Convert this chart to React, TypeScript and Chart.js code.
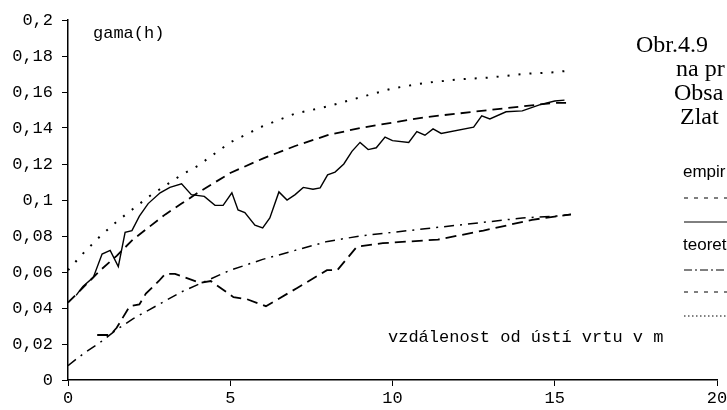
import React, { useEffect, useRef } from "react";
import { Chart, registerables } from "chart.js";

Chart.register(...registerables);

// empirical semivariogram (solid line)
const empSolidX = [0.25, 0.46, 0.78, 1.05, 1.3, 1.55, 1.76, 1.97, 2.2, 2.47, 2.84, 3.14, 3.5, 3.8, 4.2, 4.53, 4.78, 5.05, 5.24, 5.45, 5.76, 6.0, 6.22, 6.5, 6.75, 7.0, 7.25, 7.55, 7.77, 8.0, 8.23, 8.5, 8.75, 9.0, 9.25, 9.5, 9.77, 10.0, 10.5, 10.75, 11.0, 11.25, 11.5, 12.5, 12.75, 13.0, 13.5, 14.0, 14.55, 15.0, 15.3];
const empSolidY = [0.047, 0.052, 0.057, 0.070, 0.072, 0.063, 0.082, 0.083, 0.091, 0.098, 0.104, 0.107, 0.109, 0.103, 0.102, 0.097, 0.097, 0.104, 0.0945, 0.093, 0.086, 0.0845, 0.09, 0.1045, 0.100, 0.103, 0.107, 0.106, 0.1067, 0.114, 0.1155, 0.120, 0.127, 0.132, 0.128, 0.129, 0.135, 0.133, 0.132, 0.138, 0.136, 0.1395, 0.137, 0.1405, 0.1467, 0.145, 0.149, 0.1495, 0.153, 0.155, 0.1555];

// empirical semivariogram (dashed line)
const empDashX = [0.9, 1.3, 1.5, 1.9, 2.2, 2.4, 2.8, 3.0, 3.3, 4.07, 4.4, 5.1, 5.5, 6.1, 7.05, 7.98, 8.3, 8.9, 9.7, 11.4, 12.8, 14.3, 15.5];
const empDashY = [0.025, 0.025, 0.029, 0.041, 0.042, 0.048, 0.055, 0.059, 0.059, 0.054, 0.055, 0.046, 0.045, 0.041, 0.051, 0.061, 0.061, 0.074, 0.076, 0.078, 0.083, 0.089, 0.092];

// theoretical models
const theoryX = [0, 0.5, 1, 1.5, 2, 2.5, 3, 3.5, 4, 5, 6, 7, 8, 9, 10, 11, 12, 13, 14, 15, 15.5];
const theoryDashDot = [0.008, 0.015, 0.021, 0.028, 0.034, 0.039, 0.044, 0.049, 0.053, 0.061, 0.067, 0.072, 0.077, 0.080, 0.082, 0.084, 0.086, 0.088, 0.090, 0.091, 0.092];
const theoryDashed = [0.043, 0.052, 0.061, 0.069, 0.078, 0.085, 0.092, 0.098, 0.104, 0.115, 0.123, 0.130, 0.136, 0.140, 0.143, 0.146, 0.148, 0.150, 0.152, 0.154, 0.154];
const theoryDotted = [0.061, 0.071, 0.080, 0.088, 0.095, 0.102, 0.108, 0.114, 0.119, 0.132, 0.141, 0.148, 0.152, 0.157, 0.162, 0.165, 0.167, 0.168, 0.170, 0.171, 0.172];

const xTicks = [0, 5, 10, 15, 20];
const yLabel = "gama(h)";
const xLabel = "vzdálenost od ústí vrtu v m";
const captionLines = ["Obr.4.9", "na pr", "Obsa", "Zlat"];
const legendEmp = "empir";
const legendTheo = "teoret";

const MONO = "'Liberation Mono', 'Courier New', monospace";

const pairs = (xs: number[], ys: number[]) => xs.map((x, i) => ({ x, y: ys[i] }));

const textPlugin = {
  id: "texts",
  afterDraw(chart: any) {
    const ctx = chart.ctx as CanvasRenderingContext2D;
    ctx.save();
    ctx.fillStyle = "#000";
    ctx.textBaseline = "middle";
    ctx.textAlign = "left";
    ctx.font = `17px ${MONO}`;
    ctx.fillText(yLabel, 93, 33);
    ctx.fillText(xLabel, 388, 337);

    ctx.font = "24px 'Liberation Serif', 'Times New Roman', serif";
    ctx.fillText(captionLines[0], 636, 46);
    ctx.fillText(captionLines[1], 676, 70);
    ctx.fillText(captionLines[2], 674, 94);
    ctx.fillText(captionLines[3], 680, 118);

    ctx.font = "17px 'Liberation Sans', Arial, sans-serif";
    ctx.fillText(legendEmp, 683, 172);
    ctx.fillText(legendTheo, 683, 245);

    const seg = (y: number, dash: number[], w: number) => {
      ctx.beginPath();
      ctx.setLineDash(dash);
      ctx.lineWidth = w;
      ctx.strokeStyle = "#000";
      ctx.moveTo(684, y);
      ctx.lineTo(740, y);
      ctx.stroke();
    };
    seg(198, [4, 6], 1.2);
    seg(222, [], 1);
    seg(270, [8, 3, 2, 3], 1);
    seg(292, [4, 6], 1.2);
    seg(316, [1.5, 2.5], 1);
    ctx.restore();
  },
};

export default function App() {
  const ref = useRef<HTMLCanvasElement | null>(null);
  useEffect(() => {
    document.body.style.margin = "0";
    const canvas = ref.current!;
    const chart = new Chart(canvas, {
      type: "line",
      data: {
        datasets: [
          {
            label: "empir 1",
            data: pairs(empDashX, empDashY),
            borderColor: "#000",
            borderWidth: 1.8,
            borderDash: [11, 6],
            pointRadius: 0,
            tension: 0,
            fill: false,
          },
          {
            label: "empir 2",
            data: pairs(empSolidX, empSolidY),
            borderColor: "#000",
            borderWidth: 1.4,
            pointRadius: 0,
            tension: 0,
            fill: false,
          },
          {
            label: "teoret 1",
            data: pairs(theoryX, theoryDashDot),
            borderColor: "#000",
            borderWidth: 1.5,
            borderDash: [10, 6, 2, 6],
            pointRadius: 0,
            tension: 0,
            fill: false,
          },
          {
            label: "teoret 2",
            data: pairs(theoryX, theoryDashed),
            borderColor: "#000",
            borderWidth: 1.8,
            borderDash: [10, 6],
            pointRadius: 0,
            tension: 0,
            fill: false,
          },
          {
            label: "teoret 3",
            data: pairs(theoryX, theoryDotted),
            borderColor: "#000",
            borderWidth: 2,
            borderDash: [2, 9],
            pointRadius: 0,
            tension: 0,
            fill: false,
          },
        ],
      },
      options: {
        responsive: false,
        animation: false,
        plugins: { legend: { display: false }, tooltip: { enabled: false } },
        layout: { padding: { top: 20, right: 10, left: 0, bottom: 0 } },
        scales: {
          x: {
            type: "linear",
            min: 0,
            max: 20,
            afterBuildTicks: (s: any) => {
              s.ticks = xTicks.map((v) => ({ value: v }));
            },
            ticks: { color: "#000", font: { family: MONO, size: 17 }, padding: 2, maxRotation: 0 },
            grid: { drawOnChartArea: false, drawTicks: true, tickLength: 6, color: "#000", lineWidth: 1 },
            border: { display: true, color: "#000", width: 1.5 },
            afterFit: (s: any) => {
              s.height = 30;
              s.paddingLeft = 0;
              s.paddingRight = 0;
            },
          },
          y: {
            type: "linear",
            min: 0,
            max: 0.2,
            ticks: {
              stepSize: 0.02,
              color: "#000",
              font: { family: MONO, size: 17 },
              padding: 9,
              callback: (v: any) => String(Number(Number(v).toFixed(2))).replace(".", ","),
            },
            grid: { drawOnChartArea: false, drawTicks: true, tickLength: 6, color: "#000", lineWidth: 1 },
            border: { display: true, color: "#000", width: 1.5 },
            afterFit: (s: any) => {
              s.width = 68;
              s.paddingTop = 0;
              s.paddingBottom = 0;
            },
          },
        },
      },
      plugins: [textPlugin],
    });
    return () => chart.destroy();
  }, []);
  return <canvas ref={ref} width={727} height={410} style={{ display: "block" }} />;
}
